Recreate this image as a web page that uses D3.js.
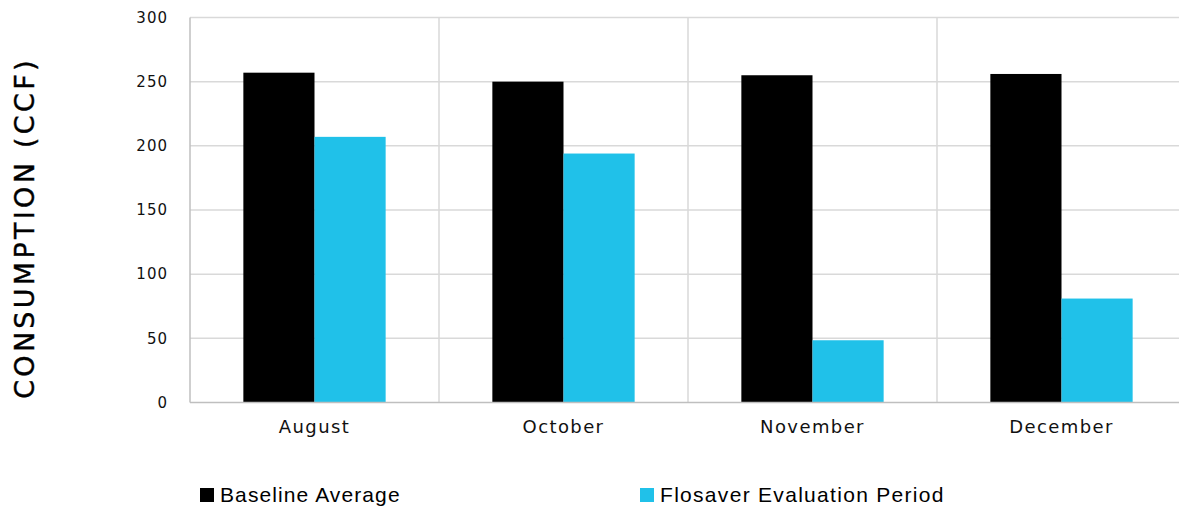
<!DOCTYPE html>
<html>
<head>
<meta charset="utf-8">
<script src="https://cdn.jsdelivr.net/npm/d3@7"></script>
<style>
  body { margin: 0; background: #fff; }
  svg { display: block; font-family: "DejaVu Sans", sans-serif; }
</style>
</head>
<body>
<div id="chart"></div>
<script>
// data
const months = ["August", "October", "November", "December"];
const baseline = [257, 250, 255, 256];
const flosaver = [207, 194, 48.5, 81];
const seriesNames = ["Baseline Average", "Flosaver Evaluation Period"];
const seriesColors = ["#000000", "#20c1e9"];
const yTicks = [0, 50, 100, 150, 200, 250, 300];

const W = 1179, H = 507;
const margin = { top: 17.5, right: -7, bottom: 104.5, left: 190 };
const width = W - margin.left - margin.right;
const height = H - margin.top - margin.bottom;

const svg = d3.select("#chart").append("svg")
  .attr("width", W)
  .attr("height", H);

const g = svg.append("g")
  .attr("transform", `translate(${margin.left},${margin.top})`);

const x = d3.scaleBand().domain(months).range([0, width]);
const y = d3.scaleLinear().domain([0, 300]).range([height, 0]);
const inner = d3.scaleBand().domain([0, 1]).range([0, x.bandwidth()]).paddingOuter(0.75).paddingInner(0);

// horizontal gridlines
g.selectAll(".hgrid")
  .data(yTicks.slice(1))
  .join("line")
  .attr("x1", 0).attr("x2", width)
  .attr("y1", d => y(d)).attr("y2", d => y(d))
  .attr("stroke", "#d9d9d9").attr("stroke-width", 1.5);

// vertical gridlines between months
g.selectAll(".vgrid")
  .data(months.slice(1))
  .join("line")
  .attr("x1", d => x(d)).attr("x2", d => x(d))
  .attr("y1", 0).attr("y2", height)
  .attr("stroke", "#d9d9d9").attr("stroke-width", 1.5);

// bars
const rows = months.map((m, i) => ({ m, v: [baseline[i], flosaver[i]] }));
const grp = g.selectAll(".grp").data(rows).join("g")
  .attr("transform", d => `translate(${x(d.m)},0)`);
grp.selectAll("rect")
  .data(d => d.v.map((v, k) => ({ v, k })))
  .join("rect")
  .attr("x", d => inner(d.k))
  .attr("width", inner.bandwidth())
  .attr("y", d => y(d.v))
  .attr("height", d => height - y(d.v))
  .attr("fill", d => seriesColors[d.k]);

// axes lines
g.append("line").attr("x1", 0).attr("x2", 0).attr("y1", 0).attr("y2", height)
  .attr("stroke", "#bfbfbf").attr("stroke-width", 1.5);
g.append("line").attr("x1", 0).attr("x2", width).attr("y1", height).attr("y2", height)
  .attr("stroke", "#bfbfbf").attr("stroke-width", 1.5);

// y axis
g.append("g")
  .call(d3.axisLeft(y).tickValues(yTicks).tickSize(0).tickPadding(22))
  .call(a => a.select(".domain").remove())
  .selectAll("text")
  .style("font-family", "DejaVu Sans, sans-serif")
  .style("font-size", "15px")
  .style("letter-spacing", "1px")
  .attr("fill", "#111");

// x axis
g.append("g")
  .attr("transform", `translate(0,${height})`)
  .call(d3.axisBottom(x).tickSize(0).tickPadding(18))
  .call(a => a.select(".domain").remove())
  .selectAll("text")
  .style("font-family", "DejaVu Sans, sans-serif")
  .style("font-size", "18px")
  .style("letter-spacing", "1.4px")
  .attr("fill", "#111");

// y title
svg.append("text")
  .attr("transform", `translate(34,228) rotate(-90)`)
  .attr("text-anchor", "middle")
  .style("font-family", "DejaVu Sans, sans-serif")
  .style("font-size", "27px")
  .style("letter-spacing", "3.3px")
  .attr("fill", "#000")
  .attr("stroke", "#000")
  .attr("stroke-width", 0.4)
  .text("CONSUMPTION (CCF)");

// legend
const legX = [200, 640];
const leg = svg.selectAll(".leg").data(seriesNames).join("g")
  .attr("transform", (d, i) => `translate(${legX[i]},488)`);
leg.append("rect").attr("width", 14).attr("height", 14)
  .attr("fill", (d, i) => seriesColors[i]);
leg.append("text")
  .attr("x", 20).attr("y", 14)
  .style("font-family", "Liberation Sans, sans-serif")
  .style("font-size", "21px")
  .style("letter-spacing", (d, i) => i ? "1.3px" : "1.1px")
  .attr("fill", "#000")
  .text(d => d);
</script>
</body>
</html>
